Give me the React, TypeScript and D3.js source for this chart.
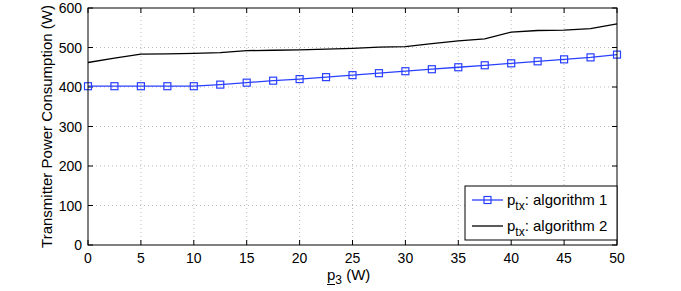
import * as d3 from "d3";

const xValues = [0, 2.5, 5, 7.5, 10, 12.5, 15, 17.5, 20, 22.5, 25, 27.5, 30, 32.5, 35, 37.5, 40, 42.5, 45, 47.5, 50];
const algorithm1 = [402, 402, 402, 402, 402, 406, 411, 416, 420, 425, 430, 435, 440, 445, 450, 455, 460, 465, 470, 475, 482];
const algorithm2 = [462, 473, 483, 484, 485, 487, 492, 493, 494, 496, 498, 501, 502, 510, 517, 522, 539, 543, 544, 548, 560];
const xTicks = [0, 5, 10, 15, 20, 25, 30, 35, 40, 45, 50];
const yTicks = [0, 100, 200, 300, 400, 500, 600];

const W = 681;
const H = 291;
const m = { left: 88, right: 64, top: 8, bottom: 46 };
const font = "Liberation Sans, Arial, Helvetica, sans-serif";
const blue = "#2a40ff";

export default function App() {
  const x = d3.scaleLinear().domain([0, 50]).range([m.left, W - m.right]);
  const y = d3.scaleLinear().domain([0, 600]).range([H - m.bottom, m.top]);
  const [x0, x1] = x.range();
  const [y0, y1] = y.range();

  const line = d3.line<number>().x((_, i) => x(xValues[i])).y((d) => y(d));

  const lx = 465, ly = 186, lw = 152, lh = 54;
  const labelX = 327;

  return (
    <svg width={W} height={H} style={{ position: "absolute", left: 0, top: 0, background: "#fff" }}>
      <rect x={0} y={0} width={W} height={H} fill="#fff" />
      {/* grid */}
      {xTicks.slice(1, -1).map((t) => (
        <line key={"gx" + t} x1={x(t)} x2={x(t)} y1={y0} y2={y1} stroke="#aaa" strokeWidth={0.8} strokeDasharray="1,3" />
      ))}
      {yTicks.slice(1, -1).map((t) => (
        <line key={"gy" + t} x1={x0} x2={x1} y1={y(t)} y2={y(t)} stroke="#aaa" strokeWidth={0.8} strokeDasharray="1,3" />
      ))}
      {/* ticks */}
      {xTicks.map((t) => (
        <g key={"tx" + t}>
          <line x1={x(t)} x2={x(t)} y1={y0} y2={y0 - 5} stroke="#000" />
          <line x1={x(t)} x2={x(t)} y1={y1} y2={y1 + 5} stroke="#000" />
          <text x={x(t)} y={y0 + 18} textAnchor="middle" fontFamily={font} fontSize={14}>{t}</text>
        </g>
      ))}
      {yTicks.map((t) => (
        <g key={"ty" + t}>
          <line x1={x0} x2={x0 + 5} y1={y(t)} y2={y(t)} stroke="#000" />
          <line x1={x1} x2={x1 - 5} y1={y(t)} y2={y(t)} stroke="#000" />
          <text x={x0 - 6} y={y(t) + 5} textAnchor="end" fontFamily={font} fontSize={14}>{t}</text>
        </g>
      ))}
      {/* series */}
      <path d={line(algorithm2) ?? ""} fill="none" stroke="#000" strokeWidth={1.3} />
      <path d={line(algorithm1) ?? ""} fill="none" stroke={blue} strokeWidth={1.3} />
      {algorithm1.map((v, i) => (
        <rect key={"m" + i} x={x(xValues[i]) - 3.5} y={y(v) - 3.5} width={7} height={7} fill="none" stroke={blue} strokeWidth={1.2} />
      ))}
      {/* axes box */}
      <rect x={x0} y={y1} width={x1 - x0} height={y0 - y1} fill="none" stroke="#000" strokeWidth={1} />
      {/* legend */}
      <rect x={lx} y={ly} width={lw} height={lh} fill="#fff" stroke="#000" strokeWidth={1} />
      <line x1={472} x2={503} y1={ly + 14} y2={ly + 14} stroke={blue} strokeWidth={1.3} />
      <rect x={484} y={ly + 10.5} width={7} height={7} fill="none" stroke={blue} strokeWidth={1.2} />
      <text x={507} y={ly + 19} fontFamily={font} fontSize={15}>
        p<tspan fontSize={12} dy={5}>tx</tspan><tspan dy={-5}>: algorithm 1</tspan>
      </text>
      <line x1={472} x2={503} y1={ly + 40} y2={ly + 40} stroke="#000" strokeWidth={1.3} />
      <text x={507} y={ly + 45} fontFamily={font} fontSize={15}>
        p<tspan fontSize={12} dy={5}>tx</tspan><tspan dy={-5}>: algorithm 2</tspan>
      </text>
      {/* axis labels */}
      <text x={labelX} y={280} fontFamily={font} fontSize={15}>
        p<tspan fontSize={12} dy={4}>3</tspan><tspan dy={-4}> (W)</tspan>
      </text>
      <line x1={labelX} x2={labelX + 8} y1={284.5} y2={284.5} stroke="#000" strokeWidth={1} />
      <text transform={`translate(52,${(y0 + y1) / 2}) rotate(-90)`} textAnchor="middle" fontFamily={font} fontSize={15}>
        Transmitter Power Consumption (W)
      </text>
    </svg>
  );
}
